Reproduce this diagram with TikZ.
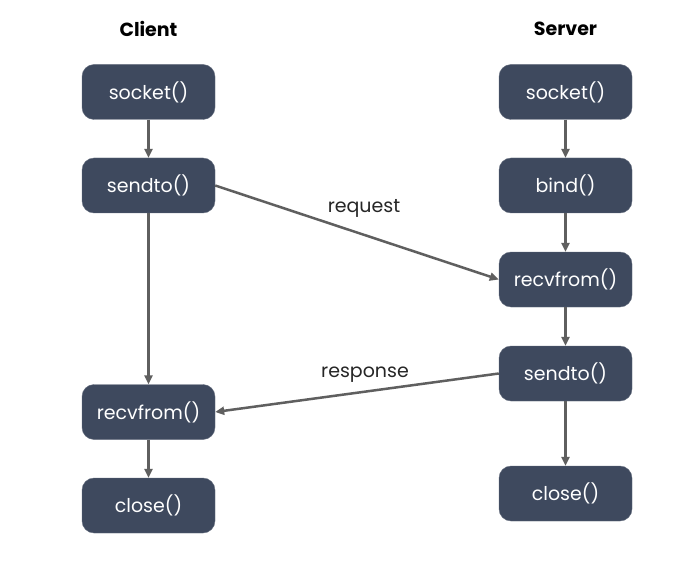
\documentclass[tikz,border=0pt]{standalone}
\usepackage{fontspec}
\setmainfont{Poppins}
\usepackage{tikz}
\usetikzlibrary{positioning,arrows.meta}
\definecolor{boxc}{RGB}{62,73,94}
\definecolor{linec}{RGB}{95,95,95}
\tikzset{
  call/.style  = {fill=boxc, draw=boxc!80!white, rounded corners=12pt, minimum width=133pt,
                  minimum height=55pt, text=white, font=\fontsize{19}{21}\selectfont, inner sep=0pt},
  head/.style  = {font=\fontsize{19}{22}\selectfont\bfseries, text=black},
  flow/.style  = {-{Triangle[length=9pt,width=8pt]}, line width=2.5pt, draw=linec},
  lbl/.style   = {font=\fontsize{19}{21}\selectfont, text=black!85},
}
\begin{document}
\begin{tikzpicture}[x=1pt,y=-1pt]
\useasboundingbox[fill=white] (0,0) rectangle (678,575);

% --- client side --------------------------------------------------------
\node[head] (client) at (148.5,29) {Client};
\node[call] (csock) at (148.5,92)  {socket()};
\node[call] (csend) at (148.5,185.5) {sendto()};
\node[call] (crecv) at (148.5,412) {recvfrom()};
\node[call] (cclose) at (148.5,505.5) {close()};

% --- server side --------------------------------------------------------
\node[head] (server) at (565.5,29) {Server};
\node[call] (ssock) at (565.5,92)  {socket()};
\node[call] (sbind) at (565.5,185.5) {bind()};
\node[call] (srecv) at (565.5,279.5) {recvfrom()};
\node[call] (ssend) at (565.5,373.5) {sendto()};
\node[call] (sclose) at (565.5,493.5) {close()};

% --- flows --------------------------------------------------------------
\draw[flow] (csock) -- (csend);
\draw[flow] (csend) -- (crecv);
\draw[flow] (crecv) -- (cclose);
\draw[flow] (ssock) -- (sbind);
\draw[flow] (sbind) -- (srecv);
\draw[flow] (srecv) -- (ssend);
\draw[flow] (ssend) -- (sclose);
% datagrams between the two
\draw[flow] (csend.east) -- (srecv.west);
\node[lbl] (req) at (364,208) {request};
\draw[flow] (ssend.west) -- (crecv.east);
\node[lbl] (resp) at (365,375) {response};

\end{tikzpicture}
\end{document}
